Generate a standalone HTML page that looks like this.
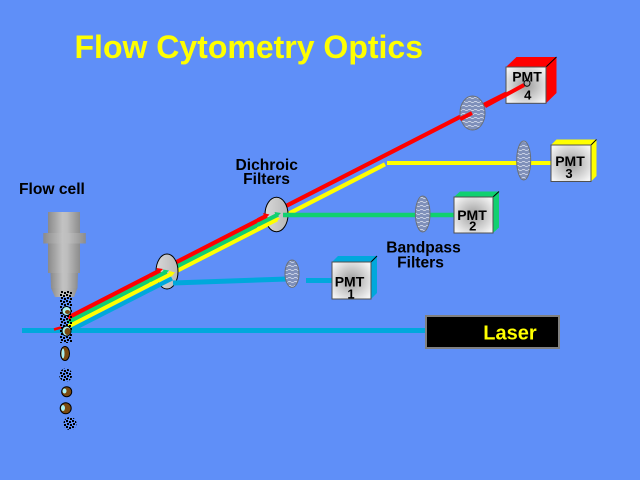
<!DOCTYPE html>
<html><head><meta charset="utf-8"><style>
html,body{margin:0;padding:0;background:#5F8FF8;}
svg{display:block;}
text{font-family:"Liberation Sans",Arial,sans-serif;font-weight:bold;}
</style></head><body>
<svg width="640" height="480" viewBox="0 0 640 480" xmlns="http://www.w3.org/2000/svg">
<defs>
  <pattern id="dots" width="6" height="6" patternUnits="userSpaceOnUse">
    <rect x="0" y="0" width="2" height="2" fill="#000"/>
    <rect x="3" y="1" width="2" height="2" fill="#000"/>
    <rect x="1" y="3" width="2" height="2" fill="#000"/>
    <rect x="4" y="4" width="2" height="2" fill="#000"/>
  </pattern>
  <pattern id="wave" width="6" height="4" patternUnits="userSpaceOnUse">
    <rect width="6" height="4" fill="#7F90BA"/>
    <path d="M0 2 Q1.5 0.8 3 2 T6 2" fill="none" stroke="#E4EAF6" stroke-width="0.7"/>
  </pattern>
  <linearGradient id="noz" x1="0" x2="1" y1="0" y2="0">
    <stop offset="0" stop-color="#8A8A8A"/><stop offset="0.45" stop-color="#C2C2C2"/>
    <stop offset="0.6" stop-color="#BDBDBD"/><stop offset="1" stop-color="#8C8C8C"/>
  </linearGradient>
  <linearGradient id="dich" x1="0" x2="1" y1="0" y2="0">
    <stop offset="0" stop-color="#D8D8D8"/><stop offset="1" stop-color="#B8B8B8"/>
  </linearGradient>
  <radialGradient id="face" cx="0.5" cy="0.5" r="0.62">
    <stop offset="0" stop-color="#9C9C9C"/><stop offset="1" stop-color="#F4F4F4"/>
  </radialGradient>
</defs>

<rect width="640" height="480" fill="#5F8FF8"/>

<!-- Title -->
<text x="74.5" y="58" font-size="32" fill="#FFFF00">Flow Cytometry Optics</text>

<!-- labels -->
<text x="19" y="194" font-size="15.6" fill="#000">Flow cell</text>
<text x="266.7" y="170" font-size="15.6" fill="#000" text-anchor="middle">Dichroic</text>
<text x="266.5" y="184" font-size="15.6" fill="#000" text-anchor="middle">Filters</text>
<text x="423.5" y="252.7" font-size="15.6" fill="#000" text-anchor="middle">Bandpass</text>
<text x="420.5" y="267.7" font-size="15.6" fill="#000" text-anchor="middle">Filters</text>

<!-- Laser line -->
<line x1="22" y1="330.5" x2="426" y2="330.5" stroke="#00A8DC" stroke-width="5"/>

<!-- Laser box -->
<rect x="426" y="316" width="133" height="32" fill="#000" stroke="#808080" stroke-width="2"/>
<text x="483.3" y="339.3" font-size="20" fill="#FFFF00">Laser</text>

<!-- full beams (under dichroics) -->
<line x1="68" y1="331.6" x2="172" y2="278.4" stroke="#00A8DC" stroke-width="4.4"/>
<line x1="68" y1="326.6" x2="385" y2="164.3" stroke="#FFFF00" stroke-width="4.2"/>
<line x1="68" y1="322.1" x2="278" y2="214.6" stroke="#10D070" stroke-width="4.2"/>
<line x1="68" y1="317.6" x2="472" y2="110.8" stroke="#FF0000" stroke-width="4.2"/>
<line x1="472" y1="110.8" x2="524" y2="84.6" stroke="#FF0000" stroke-width="4"/>

<!-- yellow horizontal -->
<line x1="387" y1="163" x2="552" y2="163" stroke="#FFFF00" stroke-width="4"/>

<!-- Dichroic filters -->
<ellipse cx="167" cy="271.5" rx="11" ry="17.5" fill="url(#dich)" stroke="#000" stroke-width="1"/>
<ellipse cx="276.5" cy="214.5" rx="11.5" ry="17.2" fill="url(#dich)" stroke="#000" stroke-width="1"/>

<!-- incoming segments over D1 -->
<line x1="150" y1="289.6" x2="172" y2="278.4" stroke="#00A8DC" stroke-width="4.4"/>
<line x1="150" y1="284.6" x2="172.5" y2="273.1" stroke="#FFFF00" stroke-width="4.2"/>
<polygon points="169,271 175,272.5 170.5,277" fill="#FFFF00"/>
<line x1="150" y1="280.1" x2="166.5" y2="271.7" stroke="#10D070" stroke-width="4.2"/>
<polygon points="163,269.5 169,270.5 164.5,275" fill="#10D070"/>
<line x1="150" y1="275.6" x2="160" y2="270.5" stroke="#FF0000" stroke-width="4.2"/>
<polygon points="156.5,268 163,269 158.5,273.5" fill="#FF0000"/>
<!-- cyan reflected -->
<polyline points="173,283 287,279" fill="none" stroke="#00A8DC" stroke-width="5"/>
<line x1="306" y1="280.5" x2="332" y2="280.5" stroke="#00A8DC" stroke-width="5"/>

<!-- incoming segments over D2 -->
<line x1="258" y1="229.1" x2="277" y2="219.4" stroke="#FFFF00" stroke-width="4.2"/>
<polygon points="273.5,217 280,218 275.5,222.5" fill="#FFFF00"/>
<line x1="258" y1="224.6" x2="278" y2="214.6" stroke="#10D070" stroke-width="4.2"/>
<polygon points="274.5,212 281,213 276.5,217.5" fill="#10D070"/>
<line x1="258" y1="220.1" x2="266.7" y2="215.7" stroke="#FF0000" stroke-width="4.2"/>
<polygon points="263,213 269.5,214.5 265,219" fill="#FF0000"/>
<!-- green horizontal -->
<line x1="283" y1="215" x2="455" y2="215" stroke="#10D070" stroke-width="4.5"/>

<!-- Bandpass filters -->
<ellipse cx="292" cy="273.7" rx="7" ry="13.7" fill="url(#wave)" stroke="#6A7078" stroke-width="1"/>
<ellipse cx="422.7" cy="214" rx="7.3" ry="18" fill="url(#wave)" stroke="#6A7078" stroke-width="1"/>
<ellipse cx="523.7" cy="160.5" rx="7" ry="19.5" fill="url(#wave)" stroke="#6A7078" stroke-width="1"/>
<ellipse cx="472.5" cy="113" rx="12.5" ry="17" fill="url(#wave)" stroke="#6A7078" stroke-width="1"/>
<line x1="460" y1="119.2" x2="472" y2="113" stroke="#FF0000" stroke-width="4"/>

<!-- PMT 1 (cyan) -->
<polygon points="332,262 338,256 377,256 371,262" fill="#00A8DC"/>
<polygon points="371,262 377,256 377,293 371,299" fill="#00A8DC"/>
<line x1="371" y1="262" x2="377" y2="256" stroke="#000" stroke-width="1"/>
<rect x="332" y="262" width="39" height="37" fill="url(#face)" stroke="#505050" stroke-width="1"/>
<text x="349.5" y="286.7" font-size="14" text-anchor="middle">PMT</text>
<text x="351" y="298.5" font-size="13" text-anchor="middle">1</text>

<!-- PMT 2 (green) -->
<polygon points="454,197 460,191.5 499,191.5 493,197" fill="#10D070"/>
<polygon points="493,197 499,191.5 499,227.5 493,233" fill="#10D070"/>
<line x1="493" y1="197" x2="499" y2="191.5" stroke="#000" stroke-width="1"/>
<rect x="454" y="197" width="39" height="36" fill="url(#face)" stroke="#505050" stroke-width="1"/>
<text x="472" y="220" font-size="14" text-anchor="middle">PMT</text>
<text x="472.7" y="230.7" font-size="13" text-anchor="middle">2</text>

<!-- PMT 3 (yellow) -->
<polygon points="551,145 556.5,139.5 596.5,139.5 591,145" fill="#FFFF00"/>
<polygon points="591,145 596.5,139.5 596.5,176 591,181.5" fill="#FFFF00"/>
<line x1="591" y1="145" x2="596.5" y2="139.5" stroke="#000" stroke-width="1"/>
<rect x="551" y="145" width="40" height="36.5" fill="url(#face)" stroke="#505050" stroke-width="1"/>
<text x="570" y="166" font-size="14" text-anchor="middle">PMT</text>
<text x="569" y="178" font-size="13" text-anchor="middle">3</text>

<!-- PMT 4 (red) -->
<polygon points="506,67 516.5,57 556.5,57 546,67" fill="#FF0000"/>
<polygon points="546,67 556.5,57 556.5,93 546,103.3" fill="#FF0000"/>
<line x1="546" y1="67" x2="556.5" y2="57" stroke="#000" stroke-width="1"/>
<rect x="506" y="67" width="40" height="36.3" fill="url(#face)" stroke="#505050" stroke-width="1"/>
<text x="527" y="81.7" font-size="14" text-anchor="middle">PMT</text>
<text x="527.7" y="99.3" font-size="13" text-anchor="middle">4</text>
<line x1="485" y1="106.3" x2="524" y2="85" stroke="#FF0000" stroke-width="4"/>
<circle cx="527" cy="83.3" r="3" fill="none" stroke="#000" stroke-width="1"/>

<!-- Flow cell nozzle -->
<rect x="48" y="212" width="32" height="21" fill="url(#noz)"/>
<rect x="43.3" y="233" width="42.5" height="10.5" fill="url(#noz)"/>
<rect x="48" y="243.5" width="32" height="29.5" fill="url(#noz)"/>
<polygon points="50.5,273 78,273 77.5,288 51,288" fill="url(#noz)"/>
<polygon points="51,288 77.5,288 74,297 55,297" fill="url(#noz)"/>

<!-- stream of particles -->
<rect x="60" y="291" width="12" height="52" fill="url(#dots)"/>
<line x1="54" y1="329.5" x2="61" y2="327.5" stroke="#FF0000" stroke-width="2.5"/>
<ellipse cx="66.5" cy="311" rx="4.5" ry="4.5" fill="#A8F0F0" stroke="#000" stroke-width="1"/>
<ellipse cx="67.5" cy="312" rx="2.5" ry="2" fill="#7A4A10"/>
<ellipse cx="66.5" cy="331" rx="4.5" ry="5" fill="#A8F0F0" stroke="#000" stroke-width="1"/>
<ellipse cx="67.5" cy="331.5" rx="3" ry="3.5" fill="#7A4A10"/>

<ellipse cx="65" cy="353.5" rx="4.5" ry="7" fill="#7A4A10" stroke="#000" stroke-width="1"/>
<ellipse cx="63" cy="353.5" rx="1.5" ry="5" fill="#A8F0F0"/>
<circle cx="65.7" cy="375" r="6.5" fill="url(#dots)"/>
<circle cx="66.7" cy="391.7" r="5" fill="#7A4A10" stroke="#000" stroke-width="1"/>
<ellipse cx="64.5" cy="391" rx="2" ry="2.5" fill="#A8F0F0"/>
<circle cx="65.7" cy="408.3" r="5.5" fill="#7A4A10" stroke="#000" stroke-width="1"/>
<ellipse cx="63" cy="408" rx="2" ry="3" fill="#A8F0F0"/>
<circle cx="70" cy="423.5" r="6.5" fill="url(#dots)"/>
</svg>
</body></html>
